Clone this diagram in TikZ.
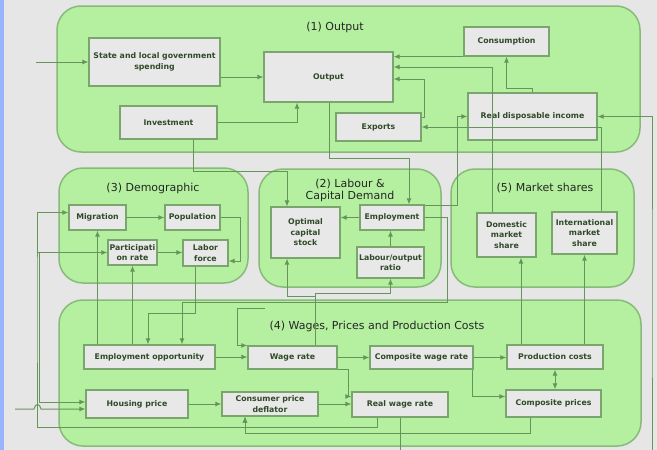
\documentclass[tikz,border=0pt]{standalone}
\usepackage{fontspec}
\setmainfont{DejaVu Sans}
\usetikzlibrary{arrows.meta}

\definecolor{bggray}{HTML}{E6E6E6}
\definecolor{stripblue}{HTML}{99B3FF}
\definecolor{panelfill}{HTML}{B4F0A0}
\definecolor{paneledge}{HTML}{88BA7A}
\definecolor{boxfill}{HTML}{E8E8E8}
\definecolor{boxedge}{HTML}{7AA66D}
\definecolor{linkgreen}{HTML}{66945A}
\definecolor{labelgreen}{HTML}{2F4A28}

\begin{document}
\begin{tikzpicture}[x=1pt,y=-1pt]
		\tikzset{panel/.style={draw=paneledge,fill=panelfill,line width=1.5pt,rounded corners=24pt},
			box/.style={draw=boxedge,fill=boxfill,line width=1.3pt,font=\fontsize{7.8}{10.5}\selectfont\bfseries,text=labelgreen,align=center,inner sep=1pt},
			title/.style={font=\fontsize{11}{12}\selectfont,text=black!85,align=center},
			flow/.style={draw=linkgreen,line width=1pt,-{Latex[length=6pt,width=5pt]}}};
		\useasboundingbox (0,0) rectangle (657,450);
		\fill[bggray] (0,0) rectangle (657,450);
		\fill[stripblue] (0,0) rectangle (3.5,450);
		
		% panels
		\draw[panel] (57,6) rectangle (640,152);
		\draw[panel] (59,168) rectangle (248,283);
		\draw[panel] (259,169) rectangle (441,287);
		\draw[panel] (451,169) rectangle (634,287);
		\draw[panel] (59,300) rectangle (641,446);
		
		\node[title] (t1) at (335,27) {(1) Output};
		\node[title] (t3) at (153,188) {(3) Demographic};
		\node[title] (t2) at (350,190) {(2) Labour \&\\Capital Demand};
		\node[title] (t5) at (545,188) {(5) Market shares};
		\node[title] (t4) at (377,326) {(4) Wages, Prices and Production Costs};
		
		% (1) output
		\node[box,minimum width=131pt,minimum height=48pt] (slg) at (154.5,62) {State and local government\\spending};
		\node[box,minimum width=129pt,minimum height=50pt] (outp) at (328.5,77) {Output};
		\node[box,minimum width=97pt,minimum height=33pt] (inv) at (168.5,122.5) {Investment};
		\node[box,minimum width=85pt,minimum height=29pt] (cons) at (506.5,41.5) {Consumption};
		\node[box,minimum width=85pt,minimum height=28pt] (expo) at (378.5,127) {Exports};
		\node[box,minimum width=129pt,minimum height=47pt] (rdi) at (532.5,116.5) {Real disposable income};
		
		% (3) demographic
		\node[box,minimum width=57pt,minimum height=25pt] (migr) at (97.5,217.5) {Migration};
		\node[box,minimum width=55pt,minimum height=25pt] (popu) at (192.5,217.5) {Population};
		\node[box,minimum width=49pt,minimum height=25pt] (part) at (132.5,252.5) {Participati\\on rate};
		\node[box,minimum width=45pt,minimum height=26pt] (labf) at (205.5,253) {Labor\\force};
		
		% (2) labour & capital demand
		\node[box,minimum width=69pt,minimum height=51pt] (ocs) at (305.5,232.5) {Optimal\\capital\\stock};
		\node[box,minimum width=64pt,minimum height=25pt] (empl) at (392,217.5) {Employment};
		\node[box,minimum width=67pt,minimum height=31pt] (lor) at (390.5,262.5) {Labour/output\\ratio};
		
		% (5) market shares
		\node[box,minimum width=59pt,minimum height=44pt] (dms) at (506.5,235) {Domestic\\market\\share};
		\node[box,minimum width=65pt,minimum height=42pt] (ims) at (584.5,233) {International\\market\\share};
		
		% (4) wages, prices and production costs
		\node[box,minimum width=131pt,minimum height=24pt] (eopp) at (149.5,357) {Employment opportunity};
		\node[box,minimum width=89pt,minimum height=23pt] (wage) at (292.5,357.5) {Wage rate};
		\node[box,minimum width=103pt,minimum height=23pt] (cwr) at (421.5,357.5) {Composite wage rate};
		\node[box,minimum width=96pt,minimum height=24pt] (prodc) at (555,357) {Production costs};
		\node[box,minimum width=102pt,minimum height=28pt] (hous) at (137,404) {Housing price};
		\node[box,minimum width=96pt,minimum height=24pt] (cpd) at (270,404) {Consumer price\\deflator};
		\node[box,minimum width=96pt,minimum height=25pt] (rwr) at (400,404.5) {Real wage rate};
		\node[box,minimum width=95pt,minimum height=27pt] (cpri) at (553.5,403.5) {Composite prices};
		
		\coordinate (in1) at (36,62);
		\coordinate (in2) at (15,409);
		\coordinate (jn1) at (37,252.5);
		\coordinate (jn2) at (39.5,252.5);
		\coordinate (wsrc) at (265,308);
		
		% links of (1)
		\draw[flow] (in1) -- (slg.west);
		\draw[flow] (slg.east |- outp.west) -- (outp.west);
		\draw[flow] (inv.east) -| ([xshift=-31.5pt]outp.south);
		\draw[flow] (cons.south west) -- (outp.east |- cons.south west);
		\draw[flow] ([xshift=-14.5pt]dms.north) |- ([yshift=10pt]outp.east);
		\draw[flow] ([yshift=-5pt]expo.north east) -- ++(3,0) |- ([yshift=-2pt]outp.east);
		\draw[flow] ([xshift=16.5pt]ims.north) |- (expo.east);
		\draw[flow] (rdi.north) -- ++(0,-4) -| (cons.south);
		\draw[flow] ([yshift=-1pt]empl.north east) -- ++(33,0) |- (rdi.west);
		\draw[flow] (rwr.south) -- ++(0,40) -| (652,300) |- (rdi.east);
		
		% links of (2)
		\draw[flow] ([xshift=0.5pt]outp.south) -- ++(0,56) -| ([xshift=17pt]empl.north);
		\draw[flow] ([xshift=24.5pt]inv.south) -- ++(0,32) -| ([xshift=-18.5pt]ocs.north);
		\draw[flow] (empl.west) -- (ocs.east |- empl.west);
		\draw[flow] (lor.north) -- (lor.north |- empl.south);
		\draw[flow] ([xshift=22.5pt]wage.north) -- ++(0,-49) -| ([xshift=-18.5pt]ocs.south);
		\draw[flow] ([xshift=22.5pt]wage.north) -- ++(0,-52) -| (lor.south);
		
		% links of (3)
		\draw[flow] (migr.east) -- (popu.west);
		\draw[flow] (part.east) -- (labf.west |- part.east);
		\draw[flow] (popu.east) -- ++(20,0) |- ([yshift=-8pt]labf.east);
		\draw[flow] ([xshift=-10.5pt]labf.south) -- ++(0,47) -| ([xshift=-1.5pt]eopp.north);
		\draw[flow] (empl.east) -| ++(23,84.5) -| ([xshift=32.5pt]eopp.north);
		\draw[flow] (eopp.north -| migr.south) -- (migr.south);
		\draw[flow] (eopp.north -| part.south) -- (part.south);
		\draw[flow] ([xshift=-23pt]rwr.south) -- ++(0,10) -| (37,300) |- ([yshift=5pt]migr.west);
		\draw[flow] (jn1) -- (part.west);
		\draw[flow] (jn2) |- ([yshift=2pt]hous.west);
		\draw[flow] (in2) -- (34,409) .. controls (35,403) and (40,403) .. (41,409) -- ([yshift=-5pt]hous.west);
		
		% links of (4)
		\draw[flow] (wsrc) -- (237,308) |- ([yshift=12pt]wage.west);
		\draw[flow] (eopp.east) -- (wage.west |- eopp.east);
		\draw[flow] (wage.east) -- (cwr.west);
		\draw[flow] (cwr.east) -- (prodc.west |- cwr.east);
		\draw[flow,{Latex[length=6pt,width=5pt]}-{Latex[length=6pt,width=5pt]}] (prodc.south) -- (prodc.south |- cpri.north);
		\draw[flow] ([xshift=-1pt]cwr.south east) |- ([yshift=7pt]cpri.west);
		\draw[flow] ([xshift=-34pt]prodc.north) -- ([xshift=14.5pt]dms.south);
		\draw[flow] ([xshift=29.5pt]prodc.north) -- (ims.south);
		\draw[flow] (wage.south east) -- ++(11,0) |- ([yshift=8pt]rwr.west);
		\draw[flow] (hous.east) -- (cpd.west);
		\draw[flow] (cpd.east) -- (rwr.west |- cpd.east);
		\draw[flow] ([xshift=-23pt]rwr.south) -- ++(0,10) -| ([xshift=-25pt]cpd.south);
		\draw[flow] ([xshift=-23.5pt]cpri.south) -- ++(0,16) -| ([xshift=-25pt]cpd.south);
	\end{tikzpicture}
\end{document}
